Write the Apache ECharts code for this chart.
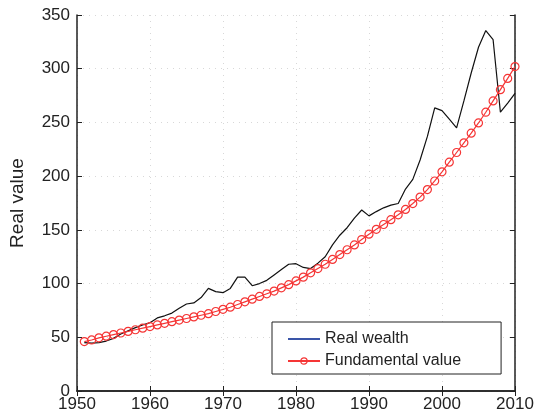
<!DOCTYPE html>
<html>
<head>
<meta charset="utf-8">
<script src="https://cdn.jsdelivr.net/npm/echarts@6/dist/echarts.min.js"></script>
<style>
html, body { margin: 0; padding: 0; background: #fff; }
#main { width: 541px; height: 417px; }
</style>
</head>
<body>
<div id="main"></div>
<script>
var years = [];
for (var y = 1951; y <= 2010; y++) years.push(y);

var realWealth = [45, 44.5, 45, 46.5, 49, 53, 56, 59, 61.5, 63.5,
  68, 70, 72.5, 77, 81, 82, 87, 95.5, 92.5, 91.5,
  95.5, 106, 106, 98, 100, 103, 108, 113, 118, 118.5,
  115, 114, 119, 125, 136, 145, 152, 161, 168.5, 163,
  167, 170.5, 173, 174.5, 188, 197, 215, 237, 263.5, 261,
  253, 245, 270, 296, 320, 335.5, 327, 259.5, 268, 277];

var fundamental = [46, 47.5, 49.5, 51, 52.5, 54, 55.5, 57, 58.5, 60,
  61.5, 63, 64.5, 66, 67.5, 69, 70.5, 72, 74, 76,
  78, 80.5, 83, 85.5, 88, 90.5, 93, 96, 99, 102.5,
  106, 110, 114, 118, 122.5, 127, 131.5, 136, 141, 146,
  150.5, 155, 159.5, 164, 169, 174.5, 180.5, 187.5, 195.5, 204,
  213, 222, 231, 240, 249.5, 259.5, 270, 280.5, 291, 302];

function pairs(vals) {
  return years.map(function (yr, i) { return [yr, vals[i]]; });
}

var font = 'Liberation Sans, Arial, sans-serif';
var chart = echarts.init(document.getElementById('main'));

var boxAxis = {
  axisLine: { show: true, lineStyle: { color: '#222', width: 1.5 } },
  axisTick: { show: true, inside: true, length: 5, lineStyle: { color: '#222' } },
  axisLabel: { show: false },
  splitLine: { show: false }
};

var option = {
  animation: false,
  backgroundColor: '#fff',
  grid: { left: 77, right: 26, top: 15, bottom: 26 },
  legend: {
    orient: 'vertical',
    left: 272,
    top: 322,
    itemWidth: 32,
    itemHeight: 8,
    itemGap: 6,
    padding: [9, 40, 5, 15],
    borderColor: '#222',
    borderWidth: 1,
    backgroundColor: '#fff',
    textStyle: { fontFamily: font, fontSize: 16, color: '#222' },
    data: [
      { name: 'Real wealth', itemStyle: { color: 'transparent', borderWidth: 0 }, lineStyle: { color: '#3a55a8', width: 2 } },
      { name: 'Fundamental value', itemStyle: { color: 'transparent', borderColor: '#f53535', borderWidth: 1.2 } }
    ]
  },
  xAxis: [{
    type: 'value',
    min: 1950, max: 2010, interval: 10,
    axisLine: { show: true, lineStyle: { color: '#222', width: 1.5 } },
    axisTick: { show: true, inside: true, length: 5, lineStyle: { color: '#222' } },
    axisLabel: { fontFamily: font, fontSize: 17, color: '#222', margin: 5, formatter: function (v) { return String(v); } },
    splitLine: { show: true, lineStyle: { color: '#d8d8d8', type: [1, 5] } }
  }, Object.assign({ type: 'value', position: 'top', min: 1950, max: 2010, interval: 10 }, boxAxis)],
  yAxis: [{
    type: 'value',
    min: 0, max: 350, interval: 50,
    name: 'Real value',
    nameLocation: 'middle',
    nameGap: 50,
    nameTextStyle: { fontFamily: font, fontSize: 19, color: '#222' },
    axisLine: { show: true, lineStyle: { color: '#222', width: 1.5 } },
    axisTick: { show: true, inside: true, length: 5, lineStyle: { color: '#222' } },
    axisLabel: { fontFamily: font, fontSize: 17, color: '#222', margin: 7 },
    splitLine: { show: true, lineStyle: { color: '#d8d8d8', type: [1, 5] } }
  }, Object.assign({ type: 'value', position: 'right', min: 0, max: 350, interval: 50 }, boxAxis)],
  series: [{
    name: 'Real wealth',
    type: 'line',
    data: pairs(realWealth),
    showSymbol: false,
    symbol: 'none',
    lineStyle: { color: '#111', width: 1.2 },
    itemStyle: { color: '#111' },
    z: 3
  }, {
    name: 'Fundamental value',
    type: 'line',
    data: pairs(fundamental),
    symbol: 'circle',
    symbolSize: 8,
    lineStyle: { color: '#f53535', width: 1.2 },
    itemStyle: { color: 'transparent', borderColor: '#f53535', borderWidth: 1.2 },
    z: 4
  }]
};
chart.setOption(option);
</script>
</body>
</html>
